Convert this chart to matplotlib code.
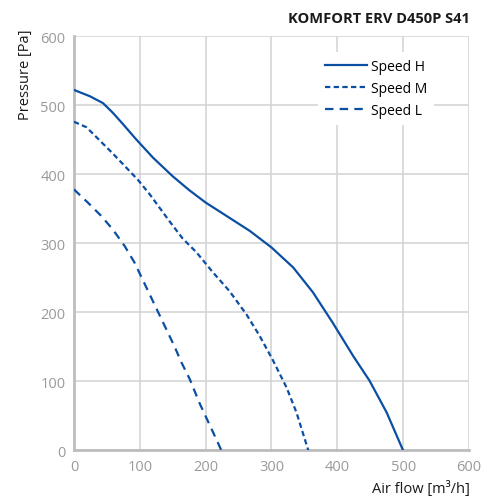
import matplotlib.pyplot as plt
import numpy as np

plt.rcParams["font.family"] = ["Open Sans", "DejaVu Sans"]

# airflow [m3/h] and pressure [Pa]
flow_h = [0, 24, 44, 59, 74, 94, 120, 150, 175, 200, 236, 267, 300, 333, 363, 393, 424, 449, 475, 500]
pres_h = [522, 513, 503, 489, 473, 451, 424, 397, 377, 359, 337, 318, 294, 265, 229, 185, 137, 101, 55, 0]

flow_m = [0, 19, 39, 59, 79, 97, 115, 145, 165, 186, 211, 236, 262, 282, 302, 323, 338, 356]
pres_m = [476, 468, 449, 430, 410, 392, 371, 332, 307, 287, 258, 231, 197, 166, 131, 91, 55, 0]

flow_l = [0, 21, 41, 59, 77, 92, 102, 115, 127, 140, 153, 163, 176, 191, 209, 224]
pres_l = [378, 359, 340, 320, 296, 272, 252, 226, 202, 176, 150, 128, 103, 68, 31, 0]

ticks = [0, 100, 200, 300, 400, 500, 600]

blue = "#0b4fa3"
grey_tick = "#9a9a9a"

fig = plt.figure(figsize=(4.88, 5.02), dpi=100)
ax = fig.add_axes([0.1516, 0.1006, 0.8094, 0.8255])

ax.plot(flow_h, pres_h, color=blue, linewidth=1.6, label="Speed H", zorder=3)
ax.plot(flow_m, pres_m, color=blue, linewidth=1.6, dashes=(2.4, 1.5), label="Speed M", zorder=3)
ax.plot(flow_l, pres_l, color=blue, linewidth=1.6, dashes=(3.8, 2.8), label="Speed L", zorder=3)

ax.set_xlim(0, 600)
ax.set_ylim(0, 600)
ax.set_xticks(ticks)
ax.set_yticks(ticks)
ax.grid(True, color="#d2d2d2", linewidth=1.1)
ax.set_axisbelow(True)

for side in ["top", "right"]:
    ax.spines[side].set_visible(False)
for side in ["left", "bottom"]:
    ax.spines[side].set_color("#bdbdbd")
    ax.spines[side].set_linewidth(2.0)

ax.tick_params(axis="both", length=0, labelsize=10.5, labelcolor=grey_tick, pad=6)

ax.set_ylabel("Pressure [Pa]", fontsize=10.5, color="#1a1a1a")
ax.yaxis.set_label_coords(-0.105, 1.018)
ax.yaxis.label.set_horizontalalignment("right")

fig.text(0.963, 0.026, "Air flow [m\u00b3/h]", ha="right", va="center", fontsize=10.5, color="#1a1a1a")
fig.text(0.963, 0.963, "KOMFORT ERV D450P S41", ha="right", va="center",
         fontsize=10.5, fontweight="bold", color="#1a1a1a")

leg = ax.legend(loc="upper left", bbox_to_anchor=(0.60, 0.978), frameon=True,
                facecolor="white", edgecolor="none", framealpha=1.0,
                fontsize=10, handlelength=3.0, handletextpad=0.3,
                labelspacing=0.5, borderpad=0.5)
leg.get_frame().set_boxstyle("square", pad=0.0)

fig.savefig("out.png", dpi=100)
